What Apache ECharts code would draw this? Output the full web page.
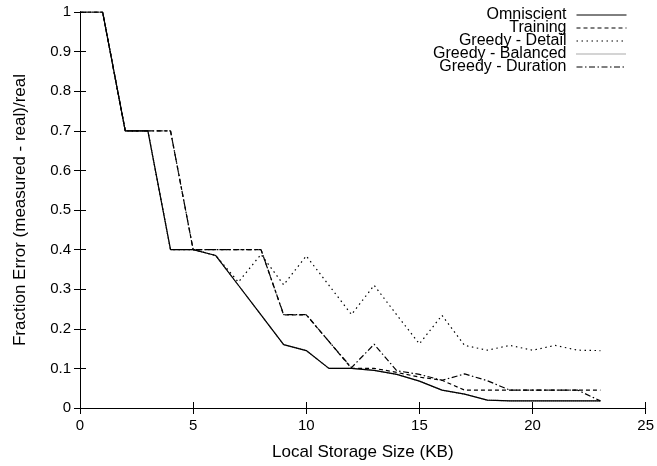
<!DOCTYPE html>
<html>
<head>
<meta charset="utf-8">
<script src="https://cdn.jsdelivr.net/npm/echarts@6/dist/echarts.min.js"></script>
<style>
html,body{margin:0;padding:0;background:#fff;}
#chart{width:657px;height:466px;}
</style>
</head>
<body>
<div id="chart"></div>
<script>
var sizes = [0,1,2,3,4,5,6,7,8,9,10,11,12,13,14,15,16,17,18,19,20,21,22,23];
var omniscient = [1,1,0.7,0.7,0.4,0.4,0.385,0.31,0.235,0.16,0.145,0.1,0.1,0.095,0.085,0.068,0.045,0.035,0.02,0.018,0.018,0.018,0.018,0.018];
var training = [1,1,0.7,0.7,0.7,0.4,0.4,0.4,0.4,0.235,0.235,0.168,0.1,0.1,0.09,0.078,0.07,0.045,0.045,0.045,0.045,0.045,0.045,0.045];
var greedyDetail = [1,1,0.7,0.7,0.4,0.4,0.385,0.318,0.388,0.311,0.384,0.31,0.236,0.31,0.235,0.162,0.234,0.158,0.146,0.158,0.146,0.158,0.146,0.145];
var greedyBalanced = [1,1,0.7,0.7,0.4,0.4,0.385,0.31,0.235,0.16,0.145,0.1,0.1,0.095,0.085,0.068,0.045,0.035,0.02,0.018,0.018,0.018,0.018,0.018];
var greedyDuration = [1,1,0.7,0.7,0.7,0.4,0.4,0.4,0.4,0.236,0.236,0.168,0.102,0.161,0.094,0.085,0.07,0.086,0.069,0.045,0.045,0.045,0.045,0.018];
var seriesNames = ['Omniscient','Training','Greedy - Detail','Greedy - Balanced','Greedy - Duration'];

function pairs(arr){ return sizes.map(function(x,i){ return [x, arr[i]]; }); }

var FONT = 'Liberation Sans, Arial, Helvetica, sans-serif';
var chart = echarts.init(document.getElementById('chart'), null, {renderer:'canvas'});
var axisLineStyle = {show:true, lineStyle:{color:'#000', width:1}};
var tickStyle = {show:true, inside:true, length:6, lineStyle:{color:'#000', width:1}};

function mkSeries(name, data, dash, color, z){
  return {
    name: name, type:'line', data: pairs(data), symbol:'none', z: z,
    lineStyle:{color: color, width:1.2, type: dash},
    itemStyle:{color: color},
    animation:false
  };
}

chart.setOption({
  animation:false,
  backgroundColor:'#fff',
  textStyle:{fontFamily:FONT},
  grid:{left:80, right:9, top:12, bottom:54, containLabel:false},
  legend:{
    orient:'vertical', right:25, top:2, align:'right',
    itemWidth:50, itemHeight:10, itemGap:-3,
    itemStyle:{opacity:0},
    lineStyle:{width:1, opacity:1},
    textStyle:{fontFamily:FONT, fontSize:16, color:'#000', padding:[0,5,0,0]},
    data: seriesNames
  },
  xAxis:[{
    type:'value', min:0, max:25, interval:5, position:'bottom',
    name:'Local Storage Size (KB)', nameLocation:'middle', nameGap:36,
    nameTextStyle:{fontFamily:FONT, fontSize:17, color:'#000'},
    axisLine:axisLineStyle, axisTick:tickStyle,
    axisLabel:{fontFamily:FONT, fontSize:15, color:'#000', margin:10},
    splitLine:{show:false}
  },{
    type:'value', min:0, max:25, interval:5, position:'top',
    axisLine:axisLineStyle, axisTick:tickStyle, axisLabel:{show:false}, splitLine:{show:false}
  }],
  yAxis:[{
    type:'value', min:0, max:1, interval:0.1, position:'left',
    name:'Fraction Error (measured - real)/real', nameLocation:'middle', nameGap:51,
    nameTextStyle:{fontFamily:FONT, fontSize:17, color:'#000'},
    axisLine:axisLineStyle, axisTick:tickStyle,
    axisLabel:{fontFamily:FONT, fontSize:15, color:'#000', margin:9},
    splitLine:{show:false}
  },{
    type:'value', min:0, max:1, interval:0.1, position:'right',
    axisLine:axisLineStyle, axisTick:tickStyle, axisLabel:{show:false}, splitLine:{show:false}
  }],
  series:[
    mkSeries(seriesNames[3], greedyBalanced, [1,1], '#555', 2),
    mkSeries(seriesNames[0], omniscient, 'solid', '#000', 3),
    mkSeries(seriesNames[1], training, [4,3], '#000', 4),
    mkSeries(seriesNames[2], greedyDetail, [1.5,3.5], '#000', 5),
    mkSeries(seriesNames[4], greedyDuration, [6,2.5,1.5,2.5], '#000', 6)
  ]
});
</script>
</body>
</html>
